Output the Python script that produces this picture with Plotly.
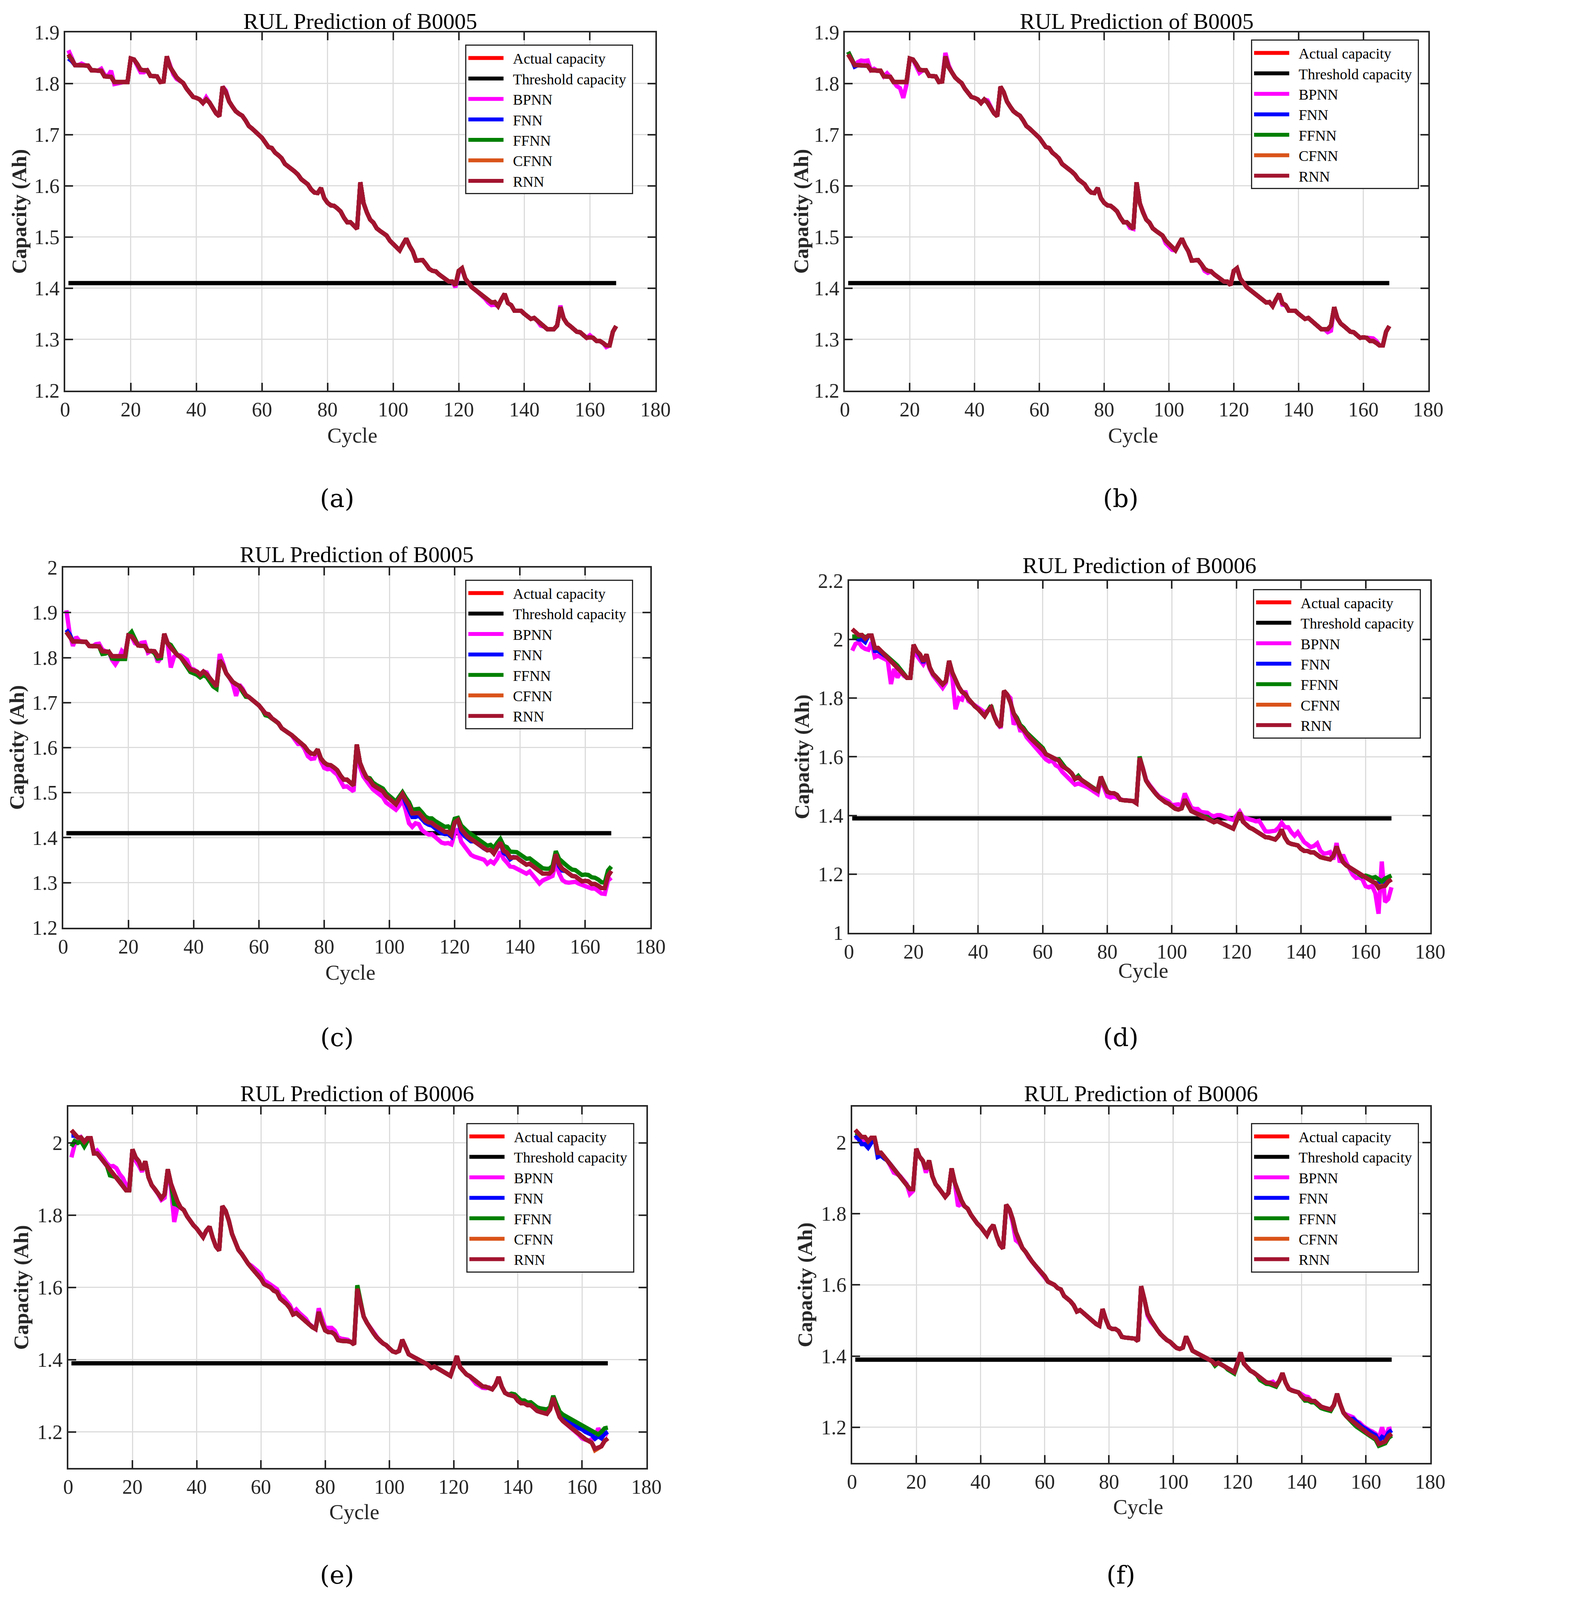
import plotly.graph_objects as go

cycles = list(range(1, 169))

# measured discharge capacity (Ah) per cycle
b0005_capacity = [
    1.857, 1.848, 1.836, 1.836, 1.835, 1.836, 1.835, 1.826, 1.825, 1.825, 1.825, 1.814,
    1.814, 1.813, 1.803, 1.803, 1.803, 1.803, 1.803, 1.849, 1.847, 1.838, 1.827, 1.826,
    1.826, 1.815, 1.815, 1.814, 1.803, 1.804, 1.853, 1.832, 1.822, 1.812, 1.806, 1.801,
    1.790, 1.783, 1.774, 1.772, 1.769, 1.762, 1.769, 1.763, 1.753, 1.742, 1.736, 1.794,
    1.783, 1.765, 1.755, 1.746, 1.741, 1.737, 1.728, 1.717, 1.712, 1.706, 1.701, 1.694,
    1.685, 1.676, 1.674, 1.665, 1.660, 1.654, 1.643, 1.639, 1.633, 1.628, 1.622, 1.613,
    1.608, 1.603, 1.593, 1.587, 1.586, 1.596, 1.576, 1.567, 1.562, 1.561, 1.556, 1.550,
    1.538, 1.529, 1.529, 1.522, 1.516, 1.607, 1.566, 1.548, 1.534, 1.528, 1.517, 1.512,
    1.507, 1.503, 1.493, 1.487, 1.481, 1.474, 1.486, 1.497, 1.483, 1.472, 1.454, 1.454,
    1.455, 1.447, 1.438, 1.434, 1.433, 1.427, 1.422, 1.416, 1.413, 1.413, 1.406, 1.434,
    1.439, 1.419, 1.409, 1.402, 1.397, 1.392, 1.386, 1.380, 1.376, 1.372, 1.373, 1.365,
    1.378, 1.389, 1.371, 1.367, 1.356, 1.357, 1.356, 1.350, 1.344, 1.340, 1.342, 1.336,
    1.330, 1.325, 1.320, 1.320, 1.320, 1.327, 1.363, 1.341, 1.331, 1.326, 1.320, 1.315,
    1.314, 1.308, 1.303, 1.304, 1.303, 1.297, 1.297, 1.293, 1.288, 1.288, 1.315, 1.326,
]
b0006_capacity = [
    2.035, 2.025, 2.015, 2.015, 2.003, 2.013, 2.013, 1.971, 1.971, 1.960, 1.949, 1.938,
    1.927, 1.916, 1.905, 1.894, 1.883, 1.869, 1.869, 1.982, 1.960, 1.949, 1.925, 1.949,
    1.905, 1.883, 1.872, 1.858, 1.847, 1.858, 1.927, 1.887, 1.861, 1.838, 1.821, 1.814,
    1.797, 1.783, 1.772, 1.763, 1.750, 1.739, 1.757, 1.768, 1.737, 1.713, 1.702, 1.825,
    1.812, 1.785, 1.748, 1.728, 1.704, 1.693, 1.677, 1.666, 1.655, 1.646, 1.635, 1.624,
    1.609, 1.604, 1.600, 1.591, 1.587, 1.569, 1.563, 1.554, 1.543, 1.525, 1.529, 1.521,
    1.512, 1.507, 1.499, 1.490, 1.485, 1.532, 1.503, 1.481, 1.476, 1.476, 1.470, 1.454,
    1.452, 1.452, 1.451, 1.449, 1.442, 1.596, 1.560, 1.519, 1.502, 1.486, 1.474, 1.462,
    1.452, 1.445, 1.440, 1.430, 1.423, 1.420, 1.424, 1.455, 1.433, 1.415, 1.410, 1.405,
    1.398, 1.396, 1.391, 1.386, 1.377, 1.381, 1.376, 1.371, 1.366, 1.360, 1.355, 1.381,
    1.410, 1.379, 1.367, 1.359, 1.354, 1.347, 1.337, 1.332, 1.326, 1.325, 1.323, 1.318,
    1.330, 1.352, 1.325, 1.308, 1.303, 1.301, 1.298, 1.286, 1.279, 1.279, 1.274, 1.274,
    1.265, 1.258, 1.255, 1.253, 1.250, 1.262, 1.294, 1.265, 1.241, 1.230, 1.223, 1.216,
    1.207, 1.201, 1.192, 1.187, 1.180, 1.175, 1.170, 1.153, 1.158, 1.160, 1.175, 1.182,
]
threshold_b0005 = 1.41
threshold_b0006 = 1.39

# prediction error of each model (Ah) at the cycles where it leaves the measured curve;
# at every other cycle the prediction sits on the measured curve
a_bpnn = {1: 0.008, 2: 0.004, 5: 0.004, 11: 0.004, 12: 0.003, 14: 0.012, 15: -0.004, 16: -0.002,
          22: -0.006, 23: -0.005, 24: -0.004, 33: -0.004, 34: -0.003, 43: 0.004, 49: 0.003,
          119: -0.004, 120: -0.004, 129: -0.004, 130: -0.005, 131: -0.005, 145: -0.003,
          151: 0.003, 160: 0.004, 165: -0.003}
a_fnn = {1: -0.008, 2: -0.004}
a_ffnn = {1: -0.003}

b_bpnn = {1: 0.005, 4: 0.006, 5: 0.010, 6: 0.008, 7: 0.010, 9: 0.004, 13: 0.006, 16: -0.008,
          17: -0.012, 18: -0.031, 19: -0.005, 22: -0.005, 23: -0.006, 31: 0.007, 32: 0.004,
          44: 0.004, 88: -0.004, 99: -0.005, 100: -0.006, 101: -0.006, 111: -0.004, 112: -0.004,
          135: -0.003, 149: -0.006, 150: -0.010, 162: 0.004, 163: 0.005, 164: 0.004}
b_fnn = {3: -0.003}
b_ffnn = {1: 0.005}

c_bpnn = {1: 0.048, 2: 0.006, 3: -0.010, 4: 0.010, 5: 0.002, 10: 0.005, 11: 0.006, 12: 0.004,
          15: -0.008, 16: -0.018, 17: -0.006, 18: 0.012, 19: 0.005, 22: -0.006, 23: 0.002,
          24: 0.007, 25: 0.008, 26: -0.004, 29: -0.013, 30: -0.004, 32: 0.002, 33: -0.044,
          34: -0.010, 36: 0.004, 37: 0.010, 38: 0.012, 39: 0.002, 40: 0.002, 44: 0.004,
          48: 0.014, 49: 0.005, 52: -0.004, 53: -0.026, 54: 0.003, 55: 0.003, 71: -0.004,
          72: -0.005, 74: -0.006, 75: -0.012, 76: -0.012, 77: -0.010, 79: -0.006, 80: -0.012,
          81: -0.010, 82: -0.008, 83: -0.010, 84: -0.010, 85: -0.012, 86: -0.016, 87: -0.015,
          88: -0.015, 89: -0.013, 90: -0.008, 91: -0.010, 92: -0.012, 93: -0.010, 94: -0.012,
          95: -0.010, 96: -0.010, 97: -0.012, 98: -0.013, 99: -0.015, 100: -0.014, 101: -0.013,
          102: -0.012, 103: -0.015, 104: -0.012, 105: -0.022, 106: -0.040, 107: -0.030,
          108: -0.022, 109: -0.025, 110: -0.030, 111: -0.027, 112: -0.027, 113: -0.025,
          114: -0.025, 115: -0.028, 116: -0.027, 117: -0.026, 118: -0.025, 119: -0.021,
          120: -0.024, 121: -0.020, 122: -0.028, 123: -0.028, 124: -0.030, 125: -0.035,
          126: -0.034, 127: -0.030, 128: -0.025, 129: -0.025, 130: -0.030, 131: -0.025,
          132: -0.022, 133: -0.025, 134: -0.020, 135: -0.018, 136: -0.022, 137: -0.020,
          138: -0.022, 139: -0.025, 140: -0.022, 141: -0.020, 142: -0.020, 143: -0.017,
          144: -0.020, 145: -0.025, 146: -0.027, 147: -0.015, 148: -0.012, 149: -0.010,
          150: -0.012, 151: -0.018, 152: -0.020, 153: -0.025, 154: -0.025, 155: -0.020,
          156: -0.015, 157: -0.012, 158: -0.010, 159: -0.008, 160: -0.012, 161: -0.014,
          162: -0.010, 163: -0.010, 164: -0.012, 165: -0.012, 166: -0.013, 167: -0.010,
          168: -0.015}
c_fnn = {1: 0.005, 2: 0.004, 105: -0.006, 106: -0.010, 107: -0.008, 108: -0.008, 109: -0.006,
         110: -0.006, 111: -0.005, 112: -0.005, 113: -0.006, 114: -0.006, 115: -0.006,
         116: -0.006, 117: -0.005, 118: -0.005, 119: -0.004, 122: -0.006, 123: -0.005,
         124: -0.005, 125: -0.005, 135: -0.005, 136: -0.005, 137: -0.004, 152: -0.004, 153: -0.004}
c_ffnn = {12: -0.006, 13: -0.005, 15: -0.005, 16: -0.006, 17: -0.006, 18: -0.006, 19: -0.006,
          21: 0.010, 22: 0.004, 28: -0.004, 29: -0.005, 30: -0.005, 33: 0.006, 34: 0.005,
          39: -0.006, 40: -0.007, 41: -0.007, 42: -0.006, 43: -0.008, 44: -0.006, 45: -0.006,
          46: -0.006, 47: -0.005, 55: -0.004, 56: -0.004, 62: -0.004, 63: -0.004,
          94: 0.004, 95: 0.005, 96: 0.005, 97: 0.006, 98: 0.006, 99: 0.006, 100: 0.006,
          101: 0.006, 102: 0.006, 103: 0.005, 104: 0.004, 105: 0.006, 106: 0.007, 107: 0.008,
          108: 0.008, 109: 0.009, 110: 0.009, 111: 0.009, 112: 0.009, 113: 0.010, 114: 0.010,
          115: 0.010, 116: 0.011, 117: 0.011, 118: 0.012, 119: 0.012, 120: 0.008, 121: 0.005,
          122: 0.008, 123: 0.010, 124: 0.011, 125: 0.011, 126: 0.011, 127: 0.012, 128: 0.012,
          129: 0.012, 130: 0.010, 131: 0.011, 132: 0.012, 133: 0.010, 134: 0.008, 135: 0.011,
          136: 0.012, 137: 0.013, 138: 0.012, 139: 0.012, 140: 0.013, 141: 0.013, 142: 0.013,
          143: 0.012, 144: 0.013, 145: 0.013, 146: 0.012, 147: 0.012, 148: 0.011, 149: 0.011,
          150: 0.010, 151: 0.007, 152: 0.012, 153: 0.014, 154: 0.014, 155: 0.014, 156: 0.014,
          157: 0.014, 158: 0.014, 159: 0.014, 160: 0.014, 161: 0.014, 162: 0.015, 163: 0.014,
          164: 0.014, 165: 0.013, 166: 0.012, 167: 0.012, 168: 0.010}

d_bpnn = {1: -0.073, 2: -0.040, 3: -0.025, 4: -0.040, 5: -0.035, 6: -0.048, 7: -0.023,
          8: -0.031, 9: -0.026, 10: -0.020, 11: -0.014, 12: -0.010, 13: -0.079, 14: -0.016,
          15: -0.035, 16: -0.004, 17: -0.007, 20: -0.012, 21: -0.015, 22: -0.019, 23: -0.010,
          24: -0.014, 25: -0.005, 26: -0.005, 27: -0.007, 28: -0.008, 29: -0.012, 30: -0.006,
          31: -0.012, 32: -0.017, 33: -0.099, 34: -0.038, 35: -0.026, 36: 0.011, 37: -0.007,
          39: 0.004, 40: 0.008, 41: 0.010, 42: 0.012, 47: -0.004, 48: -0.005, 50: 0.015,
          51: -0.038, 53: -0.014, 54: -0.004, 55: -0.010, 56: -0.012, 57: -0.015, 58: -0.015,
          59: -0.020, 60: -0.020, 61: -0.018, 62: -0.020, 63: -0.012, 64: -0.020, 65: -0.022,
          66: -0.020, 67: -0.025, 68: -0.030, 69: -0.030, 70: -0.020, 71: -0.020, 72: -0.015,
          73: -0.012, 74: -0.012, 75: -0.012, 76: -0.012, 77: -0.012, 78: -0.008, 79: -0.012,
          80: -0.015, 81: -0.015, 82: -0.010, 83: -0.010, 91: 0.003, 92: 0.003, 93: 0.003,
          94: 0.003, 95: 0.003, 96: 0.003, 97: 0.008, 98: 0.012, 99: 0.008, 100: 0.005,
          101: 0.012, 102: 0.018, 103: 0.010, 104: 0.020, 105: 0.017, 106: 0.012, 107: 0.012,
          108: 0.017, 109: 0.014, 110: 0.016, 111: 0.018, 112: 0.015, 113: 0.020, 114: 0.020,
          115: 0.025, 116: 0.026, 117: 0.025, 118: 0.028, 119: 0.030, 120: 0.020, 121: 0.003,
          122: 0.015, 123: 0.025, 124: 0.028, 125: 0.030, 126: 0.033, 127: 0.045, 128: 0.035,
          129: 0.020, 130: 0.020, 131: 0.023, 132: 0.030, 133: 0.028, 134: 0.023, 135: 0.035,
          136: 0.052, 137: 0.040, 138: 0.030, 139: 0.045, 140: 0.040, 141: 0.030, 142: 0.022,
          143: 0.018, 144: 0.022, 145: 0.040, 146: 0.022, 147: 0.015, 148: 0.018, 149: 0.025,
          150: -0.012, 151: 0.012, 152: -0.025, 153: 0.025, 154: 0.010, 155: -0.003,
          156: -0.018, 157: -0.020, 158: -0.012, 159: -0.010, 160: -0.028, 161: -0.025,
          162: -0.015, 163: -0.035, 164: -0.088, 165: 0.085, 166: -0.055, 167: -0.060,
          168: -0.027}
d_fnn = {1: -0.030, 2: -0.020, 3: -0.015, 4: -0.015, 5: -0.012, 8: -0.010, 9: -0.010,
         10: -0.006, 22: -0.004, 23: -0.004, 164: 0.015, 165: 0.012, 166: 0.010}
d_ffnn = {1: -0.025, 2: -0.015, 3: -0.005, 5: 0.004, 13: 0.004, 14: 0.005, 15: 0.006,
          44: 0.007, 52: 0.005, 53: 0.005, 54: 0.006, 55: 0.006, 56: 0.006, 57: 0.007,
          58: 0.007, 59: 0.007, 60: 0.006, 65: 0.005, 66: 0.006, 71: 0.006, 90: 0.005,
          111: 0.004, 160: 0.008, 161: 0.010, 162: 0.012, 163: 0.020, 164: 0.030, 165: 0.017,
          166: 0.025, 167: 0.015, 168: 0.013}
d_cfnn = {164: 0.004, 165: 0.002}

e_bpnn = {1: -0.075, 2: -0.030, 3: -0.010, 9: 0.008, 10: 0.010, 11: 0.008, 12: 0.006,
          13: 0.008, 14: 0.020, 15: 0.025, 16: 0.020, 17: 0.020, 18: 0.015, 19: 0.010,
          21: -0.010, 22: -0.012, 23: -0.005, 29: -0.005, 30: -0.010, 31: -0.005, 32: -0.010,
          33: -0.080, 34: -0.015, 57: 0.005, 58: 0.008, 59: 0.010, 60: 0.012, 61: 0.010,
          62: 0.010, 63: 0.008, 64: 0.008, 65: 0.008, 66: 0.010, 67: 0.010, 68: 0.008,
          69: 0.008, 70: 0.006, 71: 0.010, 72: 0.008, 73: 0.010, 74: 0.006, 78: 0.010,
          79: 0.008, 80: 0.008, 81: 0.012, 82: 0.012, 83: 0.010, 84: 0.008, 85: 0.006,
          86: 0.005, 87: 0.004, 94: 0.004, 95: 0.004, 126: -0.004, 127: -0.004, 128: -0.004,
          129: -0.004, 130: -0.004, 160: -0.005, 163: 0.010, 164: 0.030, 165: 0.052,
          166: 0.035, 167: 0.020, 168: 0.010}
e_fnn = {1: -0.015, 2: -0.005, 150: 0.004, 152: 0.006, 153: 0.008, 154: 0.010, 155: 0.012,
         156: 0.013, 157: 0.015, 158: 0.016, 159: 0.018, 160: 0.020, 161: 0.020, 162: 0.021,
         163: 0.022, 164: 0.028, 165: 0.030, 166: 0.022, 167: 0.020, 168: 0.018}
e_ffnn = {1: -0.045, 2: -0.020, 3: -0.015, 4: -0.010, 5: -0.013, 6: -0.008, 13: -0.017,
          14: -0.008, 33: -0.030, 34: -0.010, 90: 0.010, 138: 0.005, 139: 0.006, 140: 0.008,
          141: 0.008, 142: 0.008, 143: 0.007, 144: 0.008, 145: 0.009, 146: 0.010, 147: 0.010,
          148: 0.010, 149: 0.012, 150: 0.006, 151: 0.006, 152: 0.012, 153: 0.015, 154: 0.018,
          155: 0.020, 156: 0.022, 157: 0.025, 158: 0.027, 159: 0.030, 160: 0.032, 161: 0.034,
          162: 0.035, 163: 0.035, 164: 0.045, 165: 0.035, 166: 0.040, 167: 0.035, 168: 0.030}
e_cfnn = {164: -0.004, 165: -0.005}

f_bpnn = {1: -0.020, 2: -0.015, 3: -0.010, 4: -0.010, 5: -0.020, 12: -0.005, 13: -0.012,
          14: -0.005, 18: -0.014, 19: -0.005, 23: -0.010, 24: -0.005, 33: -0.040, 34: -0.010,
          50: -0.010, 51: -0.023, 52: -0.010, 92: -0.005, 93: -0.005, 131: 0.005, 140: 0.005,
          141: 0.008, 142: 0.006, 154: 0.005, 155: 0.008, 156: 0.012, 157: 0.010, 158: 0.012,
          159: 0.012, 160: 0.010, 161: 0.012, 162: 0.013, 163: 0.012, 164: 0.015, 165: 0.042,
          166: 0.010, 167: 0.020, 168: 0.015}
f_fnn = {1: -0.015, 2: -0.015, 3: -0.020, 4: -0.020, 5: -0.018, 6: -0.015, 8: -0.012,
         9: -0.008, 10: -0.005, 156: 0.008, 157: 0.008, 158: 0.008, 159: 0.008, 160: 0.008,
         161: 0.008, 162: 0.008, 163: 0.008, 164: 0.008, 165: 0.015, 166: 0.008, 167: 0.010,
         168: 0.010}
f_ffnn = {1: -0.008, 113: -0.004, 117: -0.004, 118: -0.004, 119: -0.004, 120: -0.004,
          127: -0.004, 128: -0.004, 129: -0.004, 130: -0.004, 131: -0.004, 132: -0.004,
          141: -0.004, 142: -0.004, 143: -0.004, 144: -0.004, 145: -0.004, 146: -0.004,
          147: -0.004, 148: -0.004, 149: -0.004, 155: -0.005, 156: -0.005, 157: -0.005,
          158: -0.005, 159: -0.005, 160: -0.005, 161: -0.005, 162: -0.005, 163: -0.005,
          164: -0.005, 165: -0.005, 166: -0.005, 167: -0.005, 168: -0.005}

models = ["BPNN", "FNN", "FFNN", "CFNN", "RNN"]
colors = {"Actual capacity": "#FF0000", "Threshold capacity": "#000000", "BPNN": "#FF00FF",
          "FNN": "#0000FF", "FFNN": "#008000", "CFNN": "#D95319", "RNN": "#A2142F"}

panels = [
    dict(label="(a)", battery="B0005", cap=b0005_capacity, thr=threshold_b0005,
         yrange=[1.2, 1.9], dtick=0.1, dev={"BPNN": a_bpnn, "FNN": a_fnn, "FFNN": a_ffnn},
         xdom=[0.0393, 0.4466], ydom=[0.7637, 0.9885], leg=(0.4312, 0.9808),
         title_y=0.9955, cycle_xy=(0.2374, 0.7356), cap_x=0.0077, lab_xy=(0.2268, 0.6960)),
    dict(label="(b)", battery="B0005", cap=b0005_capacity, thr=threshold_b0005,
         yrange=[1.2, 1.9], dtick=0.1, dev={"BPNN": b_bpnn, "FNN": b_fnn, "FFNN": b_ffnn},
         xdom=[0.5773, 0.9797], ydom=[0.7637, 0.9885], leg=(0.9733, 0.9840),
         title_y=0.9955, cycle_xy=(0.7760, 0.7356), cap_x=0.5471, lab_xy=(0.7676, 0.6960)),
    dict(label="(c)", battery="B0005", cap=b0005_capacity, thr=threshold_b0005,
         yrange=[1.2, 2.0], dtick=0.1, dev={"BPNN": c_bpnn, "FNN": c_fnn, "FFNN": c_ffnn},
         xdom=[0.0379, 0.4431], ydom=[0.4266, 0.6526], leg=(0.4312, 0.6450),
         title_y=0.6609, cycle_xy=(0.2360, 0.3985), cap_x=0.0063, lab_xy=(0.2268, 0.3576)),
    dict(label="(d)", battery="B0006", cap=b0006_capacity, thr=threshold_b0006,
         yrange=[1.0, 2.2], dtick=0.2,
         dev={"BPNN": d_bpnn, "FNN": d_fnn, "FFNN": d_ffnn, "CFNN": d_cfnn},
         xdom=[0.5801, 0.9811], ydom=[0.4234, 0.6443], leg=(0.9747, 0.6392),
         title_y=0.6539, cycle_xy=(0.7830, 0.3997), cap_x=0.5478, lab_xy=(0.7676, 0.3576)),
    dict(label="(e)", battery="B0006", cap=b0006_capacity, thr=threshold_b0006,
         yrange=[1.1, 2.1], dtick=0.2,
         dev={"BPNN": e_bpnn, "FNN": e_fnn, "FFNN": e_ffnn, "CFNN": e_cfnn},
         xdom=[0.0414, 0.4403], ydom=[0.0875, 0.3142], leg=(0.4319, 0.3040),
         title_y=0.3225, cycle_xy=(0.2388, 0.0600), cap_x=0.0091, lab_xy=(0.2268, 0.0204)),
    dict(label="(f)", battery="B0006", cap=b0006_capacity, thr=threshold_b0006,
         yrange=[1.1, 2.1], dtick=0.2, dev={"BPNN": f_bpnn, "FNN": f_fnn, "FFNN": f_ffnn},
         xdom=[0.5822, 0.9811], ydom=[0.0907, 0.3142], leg=(0.9733, 0.3040),
         title_y=0.3225, cycle_xy=(0.7795, 0.0632), cap_x=0.5499, lab_xy=(0.7676, 0.0204)),
]

FONT = "Liberation Serif"
AXIS_COLOR = "#262626"
LW = 11
PAD = "\u00a0\u00a0"  # gap between legend line and its text

fig = go.Figure()
annotations = []
layout = {}

for i, p in enumerate(panels, start=1):
    sfx = "" if i == 1 else str(i)
    xa, ya = "x" + sfx, "y" + sfx
    leg = "legend" + sfx

    def add(name, x, y):
        fig.add_trace(go.Scatter(x=x, y=y, mode="lines", name=PAD + name + "\u00a0", xaxis=xa,
                                 yaxis=ya, legend=leg,
                                 line=dict(color=colors[name], width=LW)))

    add("Actual capacity", cycles, p["cap"])
    add("Threshold capacity", [cycles[0], cycles[-1]], [p["thr"], p["thr"]])
    for m in models:
        err = p["dev"].get(m, {})
        add(m, cycles, [c + err.get(k, 0.0) for k, c in zip(cycles, p["cap"])])

    axis_common = dict(showline=True, linecolor=AXIS_COLOR, linewidth=4, mirror="ticks",
                       ticks="inside", ticklen=20, tickwidth=4, tickcolor=AXIS_COLOR,
                       showgrid=True, gridcolor="#DCDCDC", gridwidth=3, zeroline=False,
                       tickfont=dict(family=FONT, size=52, color=AXIS_COLOR))
    layout["xaxis" + sfx] = dict(axis_common, domain=p["xdom"], anchor=ya, range=[0, 180],
                                 dtick=20, tick0=0)
    layout["yaxis" + sfx] = dict(axis_common, domain=p["ydom"], anchor=xa, range=p["yrange"],
                                 dtick=p["dtick"], tick0=0)
    layout[leg] = dict(x=p["leg"][0], y=p["leg"][1], xanchor="right", yanchor="top",
                       bgcolor="white", bordercolor=AXIS_COLOR, borderwidth=3,
                       font=dict(family=FONT, size=38, color="black"), itemwidth=90,
                       tracegroupgap=0)

    xc = (p["xdom"][0] + p["xdom"][1]) / 2
    common = dict(xref="paper", yref="paper", showarrow=False, xanchor="center",
                  yanchor="middle")
    annotations += [
        dict(common, text="RUL Prediction of " + p["battery"], x=xc, y=p["title_y"],
             font=dict(family=FONT, size=58, color="black")),
        dict(common, text="Cycle", x=p["cycle_xy"][0], y=p["cycle_xy"][1],
             font=dict(family=FONT, size=55, color=AXIS_COLOR)),
        dict(common, text="<b>Capacity (Ah)</b>", x=p["cap_x"],
             y=(p["ydom"][0] + p["ydom"][1]) / 2, textangle=-90,
             font=dict(family=FONT, size=53, color=AXIS_COLOR)),
        dict(common, text=p["label"], x=p["lab_xy"][0], y=p["lab_xy"][1],
             font=dict(family="DejaVu Serif", size=64, color="black")),
    ]

fig.update_layout(**layout)
fig.update_layout(width=3763, height=4136, autosize=False,
                  margin=dict(l=0, r=0, t=0, b=0),
                  paper_bgcolor="white", plot_bgcolor="white",
                  annotations=annotations)

fig.write_html("out.html")
